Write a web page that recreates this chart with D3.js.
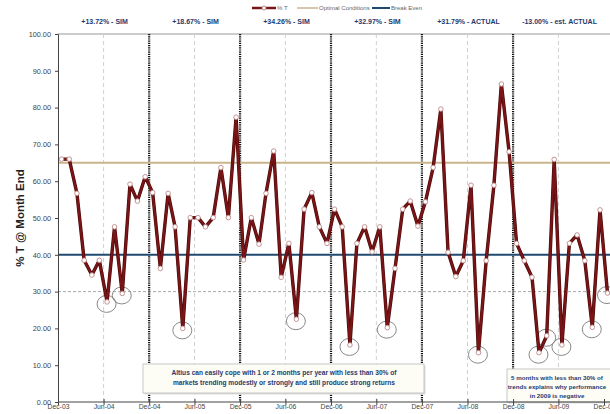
<!DOCTYPE html>
<html><head><meta charset="utf-8">
<script src="https://cdn.jsdelivr.net/npm/d3@7"></script>
<style>body{margin:0;background:#fff;}svg{display:block;font-family:"Liberation Sans",Arial,sans-serif;}</style>
</head><body><svg id="c" width="610" height="414"></svg>
<script>
// ---- data ----
const startYear = 2003, startMonth = 11; // Dec-03
const pctT = [66,66,56.7,38.5,34.5,38.5,27.2,47.6,29.5,59.2,54.6,61.2,
  56.9,36.3,56.7,47.6,20.0,50.1,50.1,47.6,50.1,63.7,50.1,77.4,
  38.6,50.1,42.9,56.7,68.2,33.9,43.1,22.5,52.4,56.9,47.6,43.1,
  52.4,47.6,15.5,43.1,47.6,40.8,47.6,20.2,36.3,52.4,54.6,47.8,
  54.4,63.7,79.6,40.7,34.1,38.4,58.9,13.4,38.4,58.9,86.4,68.0,
  43.1,38.4,33.9,13.4,18.0,65.9,15.5,43.1,45.4,38.4,20.3,52.2,29.6];
const circled = [6,8,16,31,38,43,55,63,64,66,70,72];
const optimal = 65, breakEven = 40;
const yTicks = [0,10,20,30,40,50,60,70,80,90,100];
const tickLabels = ["Dec-03","Jun-04","Dec-04","Jun-05","Dec-05","Jun-06","Dec-06","Jun-07","Dec-07","Jun-08","Dec-08","Jun-09","Dec-09"];
const dividerLabels = ["Dec-04","Dec-05","Dec-06","Dec-07","Dec-08"];
const sectionLabels = ["+13.72% - SIM","+18.67% - SIM","+34.26% - SIM","+32.97% - SIM","+31.79% - ACTUAL","-13.00% - est. ACTUAL"];
const note1 = ["Altius can easily cope with 1 or 2 months per year with less than 30% of","markets trending modestly or strongly and still produce strong returns"];
const note2 = ["5 months with less than 30% of","trends explains why performance","in 2009 is negative"];
const legendItems = ["% T","Optimal Conditions","Break Even"];

// ---- setup ----
const svg = d3.select("#c");
const parse = d3.timeParse("%b-%y");
const tickDates = tickLabels.map(parse);
const data = pctT.map((v,i)=>({d:new Date(startYear,startMonth+i,15), v, i}));
const x = d3.scaleTime().domain([tickDates[0], tickDates[tickDates.length-1]]).range([58,604]);
const y = d3.scaleLinear().domain([0,100]).range([402,34]);
const red = "#7a1416", tan = "#c9b48c", blue = "#1f4a70", navy = "#1f3a6e";

// horizontal dashed at 30
svg.append("line").attr("x1",58).attr("x2",620).attr("y1",y(30)).attr("y2",y(30))
  .attr("stroke","#aaa").attr("stroke-dasharray","3,2").attr("stroke-width",1);
// top border line at 100
svg.append("line").attr("x1",58).attr("x2",620).attr("y1",y(100)).attr("y2",y(100))
  .attr("stroke","#999").attr("stroke-width",1);
// Jun dashed gridlines
svg.selectAll("line.jun").data(tickLabels.filter(t=>t.startsWith("Jun"))).join("line")
  .attr("x1",t=>x(parse(t))).attr("x2",t=>x(parse(t))).attr("y1",y(100)).attr("y2",y(0))
  .attr("stroke","#d0d0d0").attr("stroke-dasharray","4,3").attr("stroke-width",1);
// year dividers
svg.selectAll("line.div").data(dividerLabels).join("line")
  .attr("x1",t=>x(parse(t))).attr("x2",t=>x(parse(t))).attr("y1",y(100)).attr("y2",y(0))
  .attr("stroke","#111").attr("stroke-dasharray","1.2,1").attr("stroke-width",2.2);

// optimal & break even
svg.append("line").attr("x1",58).attr("x2",620).attr("y1",y(optimal)).attr("y2",y(optimal))
  .attr("stroke",tan).attr("stroke-width",2);
svg.append("line").attr("x1",58).attr("x2",620).attr("y1",y(breakEven)).attr("y2",y(breakEven))
  .attr("stroke",blue).attr("stroke-width",2);

// y title
svg.append("text").attr("transform","translate(24,218) rotate(-90)").attr("text-anchor","middle")
  .attr("font-size",11.5).attr("font-weight","bold").attr("fill","#222").text("% T @ Month End");

// circles around low points
svg.selectAll("ellipse.hl").data(data.filter(d=>circled.includes(d.i))).join("ellipse")
  .attr("cx",d=>x(d.d)-0.5).attr("cy",d=>y(d.v)+2).attr("rx",9.5).attr("ry",8.5)
  .attr("fill","none").attr("stroke","#888").attr("stroke-width",1);

// main line
const line = d3.line().x(d=>x(d.d)).y(d=>y(d.v));
svg.append("path").datum(data).attr("d",line).attr("fill","none")
  .attr("stroke","#4a0a0a").attr("stroke-width",3.4).attr("stroke-linejoin","round");
svg.append("path").datum(data).attr("d",line).attr("fill","none")
  .attr("stroke",red).attr("stroke-width",2.2).attr("stroke-linejoin","round");
svg.selectAll("circle.pt").data(data).join("circle")
  .attr("cx",d=>x(d.d)).attr("cy",d=>y(d.v)).attr("r",2.3)
  .attr("fill","#fff").attr("stroke","#c08a8a").attr("stroke-width",0.9);

// section labels
const divDates = [tickDates[0], ...dividerLabels.map(parse), tickDates[tickDates.length-1]];
svg.selectAll("text.sec").data(sectionLabels).join("text")
  .attr("x",(t,i)=>(x(divDates[i])+x(divDates[i+1]))/2 + 1).attr("y",24)
  .attr("text-anchor","middle").attr("font-size",7).attr("font-weight","bold").attr("fill",navy).text(t=>t);

// legend
const lg = svg.append("g");
lg.append("line").attr("x1",252).attr("x2",276).attr("y1",8).attr("y2",8).attr("stroke",red).attr("stroke-width",2.5);
lg.append("circle").attr("cx",264).attr("cy",8).attr("r",2).attr("fill","#fff").attr("stroke","#c08a8a");
lg.append("text").attr("x",277).attr("y",10.2).attr("font-size",6).attr("fill","#666").text(legendItems[0]);
lg.append("line").attr("x1",297).attr("x2",318).attr("y1",8).attr("y2",8).attr("stroke",tan).attr("stroke-width",1.5);
lg.append("text").attr("x",319).attr("y",10.2).attr("font-size",6).attr("fill","#666").text(legendItems[1]);
lg.append("line").attr("x1",372).attr("x2",390).attr("y1",8).attr("y2",8).attr("stroke",blue).attr("stroke-width",2);
lg.append("text").attr("x",391).attr("y",10.2).attr("font-size",6).attr("fill","#666").text(legendItems[2]);

// note boxes
function note(x0,y0,w,h,lines,cx,ly,lh,fs){
  const g = svg.append("g");
  g.append("rect").attr("x",x0+1.5).attr("y",y0+1.5).attr("width",w).attr("height",h).attr("fill","#ddd");
  g.append("rect").attr("x",x0).attr("y",y0).attr("width",w).attr("height",h).attr("fill","#fdfdf6").attr("stroke","#bbb").attr("stroke-width",0.8);
  g.selectAll("text").data(lines).join("text").attr("x",cx).attr("y",(t,i)=>ly+i*lh)
    .attr("text-anchor","middle").attr("font-size",fs).attr("font-weight","bold").attr("fill",navy).text(t=>t);
}
note(143,364,281,29,note1,284,375,10,6.6);
note(507,369,120,33,note2,557,380,9,6.2);

// axes (drawn last so labels stay visible)
const yAxis = svg.append("g").attr("transform","translate(58,0)")
  .call(d3.axisLeft(y).tickValues(yTicks).tickFormat(d3.format(".2f")).tickSize(3).tickPadding(4));
yAxis.select(".domain").attr("stroke","#444");
yAxis.selectAll("text").attr("font-size",7.3).attr("fill","#444");
yAxis.selectAll(".tick line").attr("stroke","#444");
const xAxis = svg.append("g").attr("transform","translate(0,402)")
  .call(d3.axisBottom(x).tickValues(tickDates).tickFormat(d3.timeFormat("%b-%y")).tickSize(0).tickPadding(2.5));
xAxis.select(".domain").attr("stroke","#444").attr("d","M58,0H620");
xAxis.selectAll("text").attr("font-size",6.8).attr("fill","#444");
xAxis.selectAll(".tick line").attr("stroke","#444").attr("y1",-3).attr("y2",3);
</script></body></html>
